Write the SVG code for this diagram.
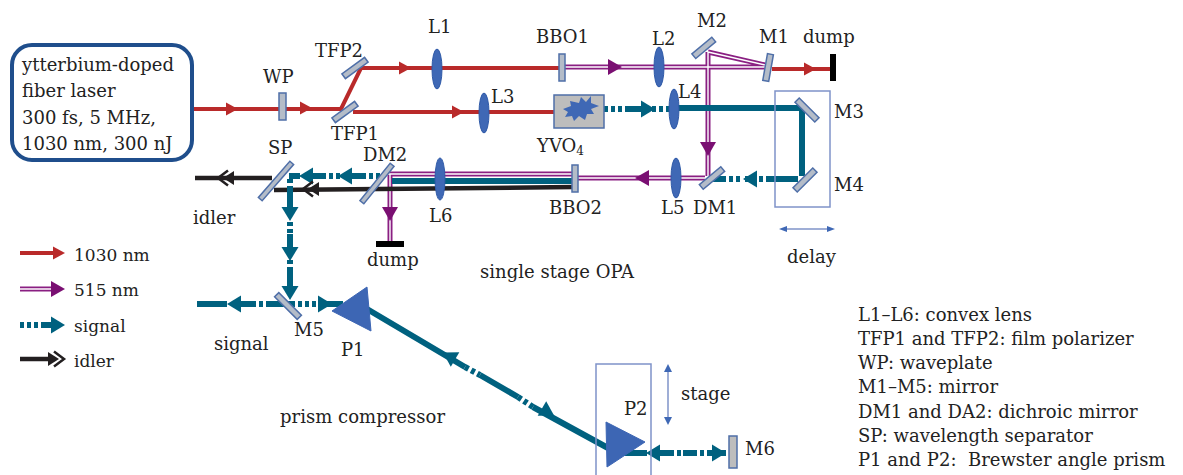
<svg xmlns="http://www.w3.org/2000/svg" width="1183" height="475" viewBox="0 0 1183 475">
<style>
text{font-family:"DejaVu Serif","Liberation Serif",serif;font-size:18px;fill:#222}
.leg{font-size:17px}
.red{stroke:#b92a2a;stroke-width:4;fill:none}
.teal{stroke:#00617f;stroke-width:6;fill:none}
.dash{stroke:#00617f;stroke-width:6;fill:none;stroke-dasharray:4 3}
.blk{stroke:#231f20;stroke-width:4.500;fill:none}
.po{stroke:#8a1f82;stroke-width:5;fill:none}
.pi{stroke:#fff;stroke-width:1.400;fill:none}
.plate{fill:#b4bcc8;stroke:#4f6fa8;stroke-width:1.500}
.lens{fill:#3f68b5;stroke:#2f5aa8;stroke-width:1}
.thin{fill:none;stroke:#7f93c9;stroke-width:1.500}
.prism{fill:#3d66b4;stroke:#3d66b4}
</style>
<defs>
<path id="hr" d="M-6-6.500L6 0L-6 6.500Z" fill="#b92a2a"/>
<path id="hp" d="M-7-8L7 0L-7 8Z" fill="#7a0f72"/>
<path id="ht" d="M-7-8.500L7 0L-7 8.500Z" fill="#00617f"/>
<g id="hi"><path d="M-9-7L2 0L-9 7Z" fill="#231f20"/><path d="M-3-7.500L7 0L-3 7.500" fill="none" stroke="#231f20" stroke-width="2.500"/></g>
</defs>
<g id="connectors">
<path class="red" d="M193 109H341L361 68H560M353 112H554M772 69H830"/>
<path class="po" d="M565 67H765M708 52L765 65M708 52V176M705 178H578M388 174H572M390 174V241"/>
<path class="pi" d="M565 67H765M708 52L765 65M708 52V176M705 178H578M388 174H572M390 174V241"/>
<path class="teal" d="M676 108H802V176"/>
<path class="dash" d="M604 109H625"/><path class="teal" d="M625 109H644"/><path class="dash" d="M652 109H671"/>
<path class="teal" d="M798 179H770"/><path class="dash" d="M770 179H757"/><path class="teal" d="M757 179H745"/><path class="dash" d="M740 179H725"/><path class="teal" d="M725 179H713"/>
<path class="teal" d="M392 181H572"/>
<path class="blk" d="M574 187L274 190M195 178H272"/>
<path class="dash" d="M380 176H366"/><path class="teal" d="M366 176H350"/><path class="dash" d="M340 176H325"/><path class="teal" d="M325 176H312"/><path class="teal" d="M300 176H289"/>
<path class="dash" d="M290 179V190"/><path class="teal" d="M290 190V208"/><path class="dash" d="M290 222V234"/><path class="teal" d="M290 234V248"/><path class="dash" d="M290 260V270"/><path class="teal" d="M290 270V288"/>
<path class="teal" d="M197 304H227M240 304H252M268 304H291M318 304H331M331 304H343"/>
<path class="dash" d="M252 304H268M291 304H318"/>
<path class="teal" d="M367 309L465 367M480 375L518 397M533 407L608 448"/>
<path class="dash" d="M465 367L480 375M518 397L533 407"/>
<path class="teal" d="M625 453H647M660 453H670M683 453H693M708 453H726"/>
<path class="dash" d="M670 453H683M693 453H708"/>
<use href="#hr" x="232" y="109"/><use href="#hr" x="306" y="108"/><use href="#hr" x="405" y="68"/><use href="#hr" x="458" y="112"/><use href="#hr" x="810" y="69"/>
<use href="#hp" x="615" y="67"/><use href="#hp" transform="translate(708 149) rotate(90)"/><use href="#hp" transform="translate(642 178) rotate(180)"/><use href="#hp" transform="translate(390 214) rotate(90)"/>
<use href="#ht" x="648" y="109"/><use href="#ht" transform="translate(750 179) rotate(180)"/><use href="#ht" transform="translate(306 176) rotate(180)"/><use href="#ht" transform="translate(345 176) rotate(180)"/><use href="#ht" transform="translate(290 214) rotate(90)"/><use href="#ht" transform="translate(290 254) rotate(90)"/><use href="#ht" transform="translate(290 293) rotate(90)"/><use href="#ht" transform="translate(234 304) rotate(180)"/><use href="#ht" x="325" y="304"/><use href="#ht" transform="translate(449 356) rotate(210)"/><use href="#ht" transform="translate(548 412) rotate(30)"/><use href="#ht" transform="translate(653 453) rotate(180)"/><use href="#ht" x="719" y="453"/>
<use href="#hi" transform="translate(225 178) rotate(180)"/><use href="#hi" transform="translate(310 189) rotate(180)"/>
</g>
<g id="laser"><rect x="12" y="45" width="180" height="115" rx="20" fill="#fff" stroke="#1f4e8c" stroke-width="4"/><text x="22" y="71">ytterbium-doped</text><text x="22" y="97">fiber laser</text><text x="22" y="124">300 fs, 5 MHz,</text><text x="22" y="150">1030 nm, 300 nJ</text></g>
<g id="WP"><rect class="plate" x="279" y="93" width="7" height="27"/><text x="263" y="83">WP</text></g>
<g id="TFP2"><rect class="plate" x="341" y="65" width="28" height="6" transform="rotate(-36 355 68)"/><text x="315" y="57">TFP2</text></g>
<g id="TFP1"><rect class="plate" x="331" y="109" width="28" height="6" transform="rotate(-36 345 112)"/><text x="331" y="140">TFP1</text></g>
<g id="L1"><ellipse class="lens" cx="437" cy="69" rx="5" ry="20"/><text x="428" y="33">L1</text></g>
<g id="L3"><ellipse class="lens" cx="484" cy="113" rx="5" ry="20"/><text x="491" y="103">L3</text></g>
<g id="BBO1"><rect class="plate" x="559" y="54" width="6" height="27"/><text x="536" y="43">BBO1</text></g>
<g id="L2"><ellipse class="lens" cx="659" cy="67" rx="5" ry="20"/><text x="652" y="45">L2</text></g>
<g id="M2"><rect class="plate" x="691" y="45.500" width="26" height="6" transform="rotate(-40 703 48.500)"/><text x="697" y="27">M2</text></g>
<g id="M1"><rect class="plate" x="765" y="54" width="6" height="27" transform="rotate(10 768 68)"/><text x="759" y="43">M1</text></g>
<g id="dump1"><rect x="830" y="54" width="6" height="27" fill="#000"/><text x="803" y="43">dump</text></g>
<g id="YVO"><rect x="554" y="95" width="50" height="33" fill="#bdbdbd" stroke="#4f6fa8" stroke-width="1.500"/><path d="M563 109L571 106L570 101L579 103L581 97L586 102L591 96L591 103L599 106L591 109L594 114L587 114L585 120L579 116L574 121L572 116L565 117L568 112Z" fill="#3f68b5"/><text x="537" y="152">YVO<tspan font-size="12" dy="3">4</tspan></text></g>
<g id="L4"><ellipse class="lens" cx="674" cy="109" rx="5" ry="20"/><text x="678" y="98">L4</text></g>
<g id="delay"><rect class="thin" x="775" y="91" width="55" height="116"/><path class="thin" d="M784 229H830"/><path d="M779 229L787 226V232ZM835 229L827 226V232Z" fill="#3f68b5"/><text x="787" y="263">delay</text></g>
<g id="M3"><rect class="plate" x="793" y="107" width="28" height="6" transform="rotate(45 807 110)"/><text x="834" y="118">M3</text></g>
<g id="M4"><rect class="plate" x="791" y="177" width="28" height="6" transform="rotate(-45 805 180)"/><text x="834" y="191">M4</text></g>
<g id="DM1"><rect class="plate" x="698" y="175" width="28" height="6" transform="rotate(-40 712 178)"/><text x="693" y="214">DM1</text></g>
<g id="L5"><ellipse class="lens" cx="676" cy="178" rx="5" ry="20"/><text x="661" y="214">L5</text></g>
<g id="BBO2"><rect class="plate" x="572" y="165" width="6" height="27"/><text x="549" y="214">BBO2</text></g>
<g id="L6"><ellipse class="lens" cx="440" cy="179" rx="5" ry="21"/><text x="429" y="222">L6</text></g>
<g id="DM2"><rect class="plate" x="353" y="181" width="48" height="5" transform="rotate(-51 377 183.500)"/><text x="363" y="161">DM2</text></g>
<g id="dump2"><rect x="376" y="241" width="28" height="6" fill="#000"/><text x="367" y="266">dump</text></g>
<g id="SP"><rect class="plate" x="252" y="178.500" width="48" height="5" transform="rotate(-49 276 181)"/><text x="268" y="154">SP</text></g>
<g id="idler-label"><text x="193" y="224">idler</text></g>
<g id="M5"><rect class="plate" x="272" y="303" width="32" height="6" transform="rotate(45 288 306)"/><text x="294" y="336">M5</text></g>
<g id="signal-label"><text x="214" y="350">signal</text></g>
<g id="P1"><path class="prism" d="M332 311L367 287L371 331Z"/><text x="341" y="356">P1</text></g>
<g id="P2"><path class="prism" d="M606 422L645 442L607 467Z"/><text x="624" y="415">P2</text></g>
<g id="stage"><path class="thin" d="M596 475V364H651V475"/><path class="thin" d="M668 369V420"/><path d="M668 364L672 372H664ZM668 425L672 417H664Z" fill="#3f68b5"/><text x="681" y="400">stage</text></g>
<g id="M6"><rect x="729" y="436" width="8" height="32" fill="#bdbdbd" stroke="#4f6fa8" stroke-width="1.500"/><text x="745" y="455">M6</text></g>
<g id="titles"><text x="480" y="278" textLength="154">single stage OPA</text><text x="280" y="423" textLength="165">prism compressor</text></g>
<g id="legend">
<path class="red" d="M20 253H55"/><use href="#hr" x="59" y="253"/><text class="leg" x="74" y="261">1030 nm</text>
<path class="po" d="M20 289H54"/><path class="pi" d="M20 289H54"/><use href="#hp" x="58" y="289"/><text class="leg" x="74" y="296">515 nm</text>
<path class="dash" d="M20 325H41"/><path class="teal" d="M41 325H54"/><use href="#ht" x="58" y="325"/><text class="leg" x="74" y="332">signal</text>
<path class="blk" d="M20 359H52"/><use href="#hi" x="57" y="359"/><text class="leg" x="74" y="367">idler</text>
</g>
<g id="notes"><text x="858" y="321">L1–L6: convex lens</text><text x="858" y="345">TFP1 and TFP2: film polarizer</text><text x="858" y="369">WP: waveplate</text><text x="858" y="393">M1–M5: mirror</text><text x="858" y="418">DM1 and DA2: dichroic mirror</text><text x="858" y="442">SP: wavelength separator</text><text x="858" y="466" xml:space="preserve">P1 and P2:  Brewster angle prism</text></g>
</svg>
